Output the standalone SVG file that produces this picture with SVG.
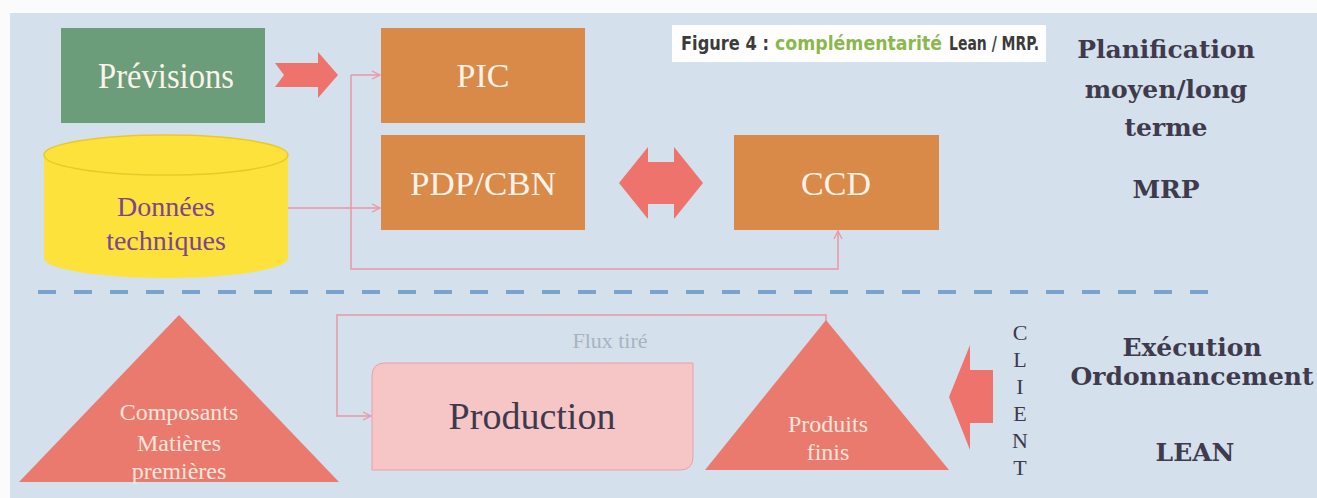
<svg xmlns="http://www.w3.org/2000/svg" width="1317" height="498" viewBox="0 0 1317 498">
  <style>
    .box { stroke: none; }
    .orange { fill: #d98a48; }
    .lbl { font-family: "Liberation Serif", "Times New Roman", serif; text-anchor: middle; }
    .white { fill: #fbf3ea; }
    .side { font-family: "DejaVu Serif", "Liberation Serif", serif; font-weight: bold; font-size: 25px; fill: #3f3a4c; text-anchor: middle; }
    .link { fill: none; stroke: #e996a8; stroke-width: 1.5; }
    .tri { fill: #ea7a6d; }
    .bigarrow { fill: #ee736d; }
    .cap { font-family: "Liberation Sans Narrow", "DejaVu Sans Condensed", "Roboto", sans-serif; font-stretch: condensed; font-weight: bold; font-size: 20px; }
    .dark { fill: #3b3b3b; }
  </style>
  <defs>
    <marker id="tip" markerWidth="10" markerHeight="10" refX="9" refY="5" orient="auto" markerUnits="userSpaceOnUse">
      <path d="M1,1 L9,5 L1,9" fill="none" stroke="#e996a8" stroke-width="1.3"/>
    </marker>
  </defs>

  <!-- page and panel background -->
  <rect x="0" y="0" width="1317" height="498" fill="#fbfbfb"/>
  <rect x="10" y="13" width="1307" height="485" fill="#d4e0ec"/>

  <!-- caption -->
  <g id="caption">
    <rect x="672" y="25" width="374" height="37" fill="#ffffff"/>
    <text class="cap dark" x="681" y="50" textLength="88" lengthAdjust="spacingAndGlyphs">Figure 4 :</text>
    <text class="cap" x="775" y="50" fill="#8ab84c" textLength="167" lengthAdjust="spacingAndGlyphs">complémentarité</text>
    <text class="cap dark" x="949" y="50" textLength="90" lengthAdjust="spacingAndGlyphs">Lean / MRP.</text>
  </g>

  <!-- separator between planning and execution -->
  <line x1="38" y1="292" x2="1215" y2="292" stroke="#7aa2ca" stroke-width="4" stroke-dasharray="18 18"/>

  <!-- connectors -->
  <g id="connectors">
    <polyline class="link" points="351,75 380,75" marker-end="url(#tip)"/>
    <polyline class="link" points="351,75 351,269 838,269 838,231" marker-end="url(#tip)"/>
    <polyline class="link" points="288,208 380,208" marker-end="url(#tip)"/>
    <polyline class="link" points="826,325 826,315 337,315 337,416 371,416" marker-end="url(#tip)"/>
    <!-- forecast feed arrow -->
    <polygon class="bigarrow" points="275,63 318,63 318,52 338,75 318,98 318,87 275,87 284,75"/>
    <!-- PDP/CBN <-> CCD -->
    <polygon class="bigarrow" points="619,183 648,147 648,162 674,162 674,147 703,183 674,219 674,204 648,204 648,219"/>
    <!-- customer demand arrow -->
    <polygon class="bigarrow" points="993,370 970,370 970,345 949,397 970,450 970,423 993,423"/>
  </g>

  <g id="previsions">
    <rect class="box" x="61" y="28" width="204" height="95" fill="#6b9d7a"/>
    <text class="lbl white" x="166" y="88" font-size="36" textLength="136" lengthAdjust="spacingAndGlyphs">Prévisions</text>
  </g>

  <g id="pic">
    <rect class="box orange" x="381" y="28" width="204" height="95"/>
    <text class="lbl white" x="483" y="87" font-size="34">PIC</text>
  </g>

  <g id="pdp-cbn">
    <rect class="box orange" x="381" y="135" width="204" height="95"/>
    <text class="lbl white" x="483" y="195" font-size="34" textLength="146" lengthAdjust="spacingAndGlyphs">PDP/CBN</text>
  </g>

  <g id="ccd">
    <rect class="box orange" x="734" y="135" width="205" height="95"/>
    <text class="lbl white" x="836" y="195" font-size="34">CCD</text>
  </g>

  <g id="donnees">
    <path d="M44,155 A122,20 0 0 1 288,155 V258 A122,20 0 0 1 44,258 Z" fill="#fde23c"/>
    <ellipse cx="166" cy="155" rx="122" ry="20" fill="#fde23c" stroke="#e9c92a" stroke-width="1.5"/>
    <text class="lbl" x="166" y="216" font-size="28" fill="#7c4590">Données</text>
    <text class="lbl" x="166" y="250" font-size="28" fill="#7c4590">techniques</text>
  </g>

  <g id="composants">
    <polygon class="tri" points="179,315 339,482 19,482"/>
    <text class="lbl" x="179" y="420" font-size="24" fill="#fbe6dc">Composants</text>
    <text class="lbl" x="179" y="451" font-size="24" fill="#fbe6dc">Matières</text>
    <text class="lbl" x="179" y="479" font-size="24" fill="#fbe6dc">premières</text>
  </g>

  <g id="production">
    <path d="M385,363 H693 V457 Q693,470 680,470 H372 V376 Q372,363 385,363 Z" fill="#f6c5c6" stroke="#eaa0aa" stroke-width="1"/>
    <text class="lbl" x="532" y="429" font-size="38" fill="#3d3a4c">Production</text>
  </g>

  <g id="flux-tire">
    <text class="lbl" x="610" y="348" font-size="22" fill="#a9b3bf">Flux tiré</text>
  </g>

  <g id="produits-finis">
    <polygon class="tri" points="826,320 949,470 705,470"/>
    <text class="lbl" x="828" y="432" font-size="24" fill="#fbe6dc">Produits</text>
    <text class="lbl" x="828" y="460" font-size="24" fill="#fbe6dc">finis</text>
  </g>

  <g id="client">
    <text class="lbl" x="1020" y="340" font-size="22" fill="#3d3a4c">C</text>
    <text class="lbl" x="1020" y="367" font-size="22" fill="#3d3a4c">L</text>
    <text class="lbl" x="1020" y="394" font-size="22" fill="#3d3a4c">I</text>
    <text class="lbl" x="1020" y="421" font-size="22" fill="#3d3a4c">E</text>
    <text class="lbl" x="1020" y="448" font-size="22" fill="#3d3a4c">N</text>
    <text class="lbl" x="1020" y="475" font-size="22" fill="#3d3a4c">T</text>
  </g>

  <g id="mrp-label">
    <text class="side" x="1166" y="58">Planification</text>
    <text class="side" x="1166" y="98">moyen/long</text>
    <text class="side" x="1166" y="136">terme</text>
    <text class="side" x="1166" y="198">MRP</text>
  </g>

  <g id="lean-label">
    <text class="side" x="1192" y="356">Exécution</text>
    <text class="side" x="1192" y="385" font-size="24">Ordonnancement</text>
    <text class="side" x="1195" y="461">LEAN</text>
  </g>
</svg>
